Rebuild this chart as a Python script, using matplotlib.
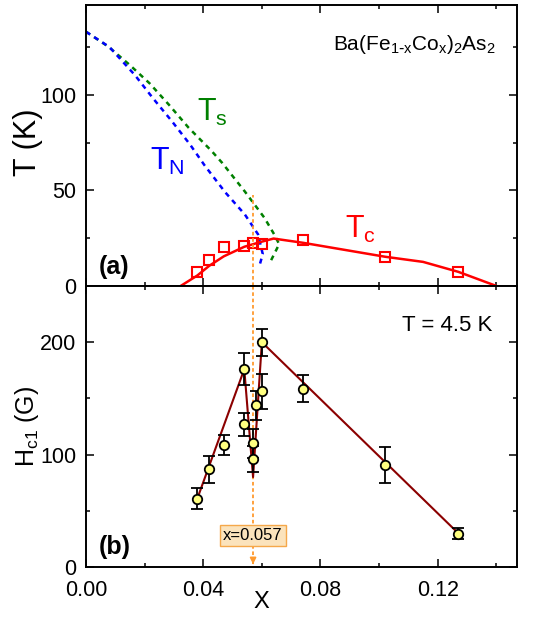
import matplotlib
matplotlib.use('Agg')
import matplotlib.pyplot as plt
from matplotlib.ticker import MultipleLocator

plt.rcParams['font.family'] = ['Liberation Sans', 'DejaVu Sans']
plt.rcParams['mathtext.default'] = 'regular'

# (a) faz diyagramı: Tc ölçüm noktaları
tc_x = [0.038, 0.042, 0.047, 0.054, 0.057, 0.060, 0.074, 0.102, 0.127]
tc_T = [7.5, 13.8, 20.6, 21.0, 22.7, 22.2, 24.3, 15.0, 7.5]

# Tc için çizilen eğri
tc_line_x = [0.0323, 0.038, 0.042, 0.047, 0.054, 0.060, 0.064, 0.074, 0.102, 0.115, 0.127, 0.140]
tc_line_T = [0, 5.5, 10.5, 15.5, 20.5, 23.2, 24.8, 22.6, 15.3, 12.6, 7.4, 0]

# TN ve TS kesikli eğrileri
tn_x = [0.0, 0.008, 0.0167, 0.0228, 0.0294, 0.0355, 0.0405, 0.0475, 0.0542, 0.0587, 0.0603, 0.0592]
tn_T = [133, 125, 110.3, 98.3, 86.0, 74.0, 63.0, 49.0, 37.4, 27.0, 16.7, 10.7]
ts_x = [0.0, 0.0078, 0.015, 0.0217, 0.0283, 0.035, 0.0428, 0.0464, 0.0542, 0.0609, 0.0642, 0.0659, 0.0631]
ts_T = [133, 125, 115.5, 106, 94.8, 82.8, 70.7, 64.5, 49.4, 35.6, 27.0, 21.9, 13.3]

# (b) Hc1 verileri (T = 4.5 K)
hc_x = [0.038, 0.042, 0.047, 0.054, 0.054, 0.057, 0.057, 0.058, 0.060, 0.060, 0.074, 0.102, 0.127]
hc_H = [60.9, 86.8, 108.8, 176.2, 126.9, 110.0, 96.0, 143.8, 156.3, 200.0, 158.7, 90.6, 29.7]
hc_err = [9, 12, 9, 14.5, 10, 12.6, 11.6, 13, 15.6, 12, 12, 16, 5]

# Hc1 için çizgi
hc_line_x = [0.038, 0.054, 0.057, 0.060, 0.127]
hc_line_H = [61, 176, 80, 200, 30]

x_kritik = 0.057

turuncu = '#FF9A2E'

fig = plt.figure(figsize=(5.34, 6.19), dpi=100)
ax1 = fig.add_axes([0.161, 0.538, 0.807, 0.454])
ax2 = fig.add_axes([0.161, 0.084, 0.807, 0.454])

# --- Üst panel ---
ax1.plot(ts_x, ts_T, color='#008000', lw=1.8, dashes=(2.0, 1.9))
ax1.plot(tn_x, tn_T, color='#0000FF', lw=1.8, dashes=(2.0, 1.9))
ax1.plot(tc_line_x, tc_line_T, color='#FF0000', lw=1.8)
ax1.plot(tc_x, tc_T, 's', ms=6.8, mfc='none', mec='#FF0000', mew=1.5)
ax1.plot([x_kritik, x_kritik], [0, 47.7], color=turuncu, lw=1.3, dashes=(2, 1.5))

ax1.set_xlim(0, 0.147)
ax1.set_ylim(0, 147)
ax1.yaxis.set_major_locator(MultipleLocator(50))
ax1.yaxis.set_minor_locator(MultipleLocator(25))
ax1.set_ylabel('T (K)', fontsize=22)
ax1.yaxis.set_label_coords(-0.1, 0.51)

ax1.text(0.951, 0.858, r'Ba(Fe$_{1\text{-}x}$Co$_x$)$_2$As$_2$', transform=ax1.transAxes,
         ha='right', va='center', fontsize=15)
ax1.text(0.0378, 91, r'T$_s$', color='#008000', fontsize=22, ha='left', va='center')
ax1.text(0.0218, 65, r'T$_N$', color='#0000FF', fontsize=22, ha='left', va='center')
ax1.text(0.0882, 29.5, r'T$_c$', color='#FF0000', fontsize=22, ha='left', va='center')
ax1.text(0.03, 0.068, '(a)', transform=ax1.transAxes, fontsize=18, fontweight='bold',
         ha='left', va='center')

# --- Alt panel ---
ax2.plot(hc_line_x, hc_line_H, color='#8B0000', lw=1.5, zorder=2)
ax2.errorbar(hc_x, hc_H, yerr=hc_err, fmt='none', ecolor='black', elinewidth=1.3,
             capsize=4.5, capthick=1.3, zorder=3)
ax2.plot(hc_x, hc_H, 'o', ms=6.8, mfc='#FFFF80', mec='black', mew=1.3, zorder=4)

ax2.plot([x_kritik, x_kritik], [250, 4], color=turuncu, lw=1.3, dashes=(2, 1.5), zorder=1)
ax2.annotate('', xy=(x_kritik, 0), xytext=(x_kritik, 6),
             arrowprops=dict(arrowstyle='-|>', color=turuncu, lw=1.2, mutation_scale=9))
ax2.text(x_kritik, 28, 'x=0.057', fontsize=12, ha='center', va='center', zorder=5,
         bbox=dict(boxstyle='square,pad=0.2', fc='#FBE3BC', ec='#F5A84A', lw=1.0))

ax2.set_xlim(0, 0.147)
ax2.set_ylim(0, 250)
ax2.yaxis.set_major_locator(MultipleLocator(100))
ax2.yaxis.set_minor_locator(MultipleLocator(50))
ax2.xaxis.set_major_formatter(plt.FuncFormatter(lambda v, p: f'{v:.2f}'))
ax2.set_ylabel(r'H$_{c1}$ (G)', fontsize=18)
ax2.yaxis.set_label_coords(-0.105, 0.5)
ax2.set_xlabel('X', fontsize=17)
ax2.xaxis.set_label_coords(0.408, -0.085)

ax2.text(0.942, 0.861, 'T = 4.5 K', transform=ax2.transAxes, ha='right', va='center', fontsize=16)
ax2.text(0.03, 0.071, '(b)', transform=ax2.transAxes, fontsize=18, fontweight='bold',
         ha='left', va='center')

for ax in (ax1, ax2):
    ax.xaxis.set_major_locator(MultipleLocator(0.04))
    ax.xaxis.set_minor_locator(MultipleLocator(0.02))
    ax.tick_params(which='both', direction='in', top=True, right=True, width=1.1,
                   labelsize=15.5)
    ax.tick_params(which='major', length=6, pad=7)
    ax.tick_params(which='minor', length=3)
    for s in ax.spines.values():
        s.set_linewidth(1.4)

ax1.tick_params(labelbottom=False)
ax2.tick_params(axis='x', pad=9)

fig.savefig('out.png', dpi=100)
